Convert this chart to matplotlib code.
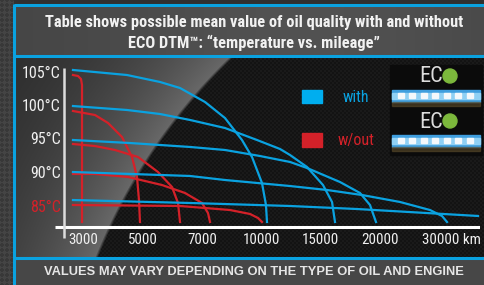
import numpy as np
import matplotlib
matplotlib.use("Agg")
import matplotlib.pyplot as plt
from matplotlib import font_manager as fm
from matplotlib.patches import Rectangle, Circle

# mileage ticks (drawn at evenly spaced positions 0..6)
km_labels = ['3000', '5000', '7000', '10000', '15000', '20000', '30000 km']
temp_ticks = [105, 100, 95, 90, 85]

# curves: x in tick-position units, y in °C
with_105_x = [-0.135, 0.774, 1.33, 1.667, 2.088, 2.424, 2.71, 2.879, 3.047, 3.114, 3.131]
with_105_y = [105.45, 104.70, 103.66, 102.76, 100.67, 98.28, 95.0, 92.46, 88.58, 85.30, 82.76]
with_100_x = [-0.135, 0.774, 1.33, 1.835, 2.424, 2.963, 3.35, 3.519, 3.805, 4.074, 4.226, 4.276]
with_100_y = [100.07, 99.48, 98.88, 97.99, 96.79, 95.0, 93.66, 92.76, 90.97, 88.28, 85.75, 82.76]
with_95_x = [-0.135, 0.825, 1.835, 2.424, 3.013, 3.519, 3.805, 4.36, 4.697, 4.865, 4.966]
with_95_y = [95.0, 94.55, 93.96, 93.51, 92.61, 91.72, 90.82, 88.73, 87.09, 85.30, 82.76]
with_90_x = [-0.135, 1.835, 2.424, 3.519, 4.141, 4.731, 5.37, 5.875, 6.077, 6.162]
with_90_y = [90.22, 89.63, 89.03, 88.13, 87.54, 86.79, 85.75, 84.55, 83.66, 82.76]
with_85_x = [-0.135, 1.835, 3.519, 4.646, 6.684]
with_85_y = [86.04, 85.60, 85.15, 84.70, 83.66]

without_105_x = [-0.135, -0.05, 0.0, 0.017, 0.017]
without_105_y = [104.70, 104.55, 104.10, 103.21, 82.76]
without_100_x = [-0.135, 0.236, 0.455, 0.69, 0.859, 0.943, 0.976, 0.993]
without_100_y = [99.33, 98.73, 97.54, 95.45, 92.46, 89.48, 86.04, 82.76]
without_95_x = [-0.135, 0.236, 0.572, 0.96, 1.296, 1.532, 1.633, 1.667]
without_95_y = [94.40, 94.10, 93.51, 92.46, 90.22, 87.99, 85.60, 82.76]
without_90_x = [-0.135, 0.236, 0.791, 1.364, 1.751, 2.037, 2.138, 2.172]
without_90_y = [89.93, 89.93, 89.48, 88.28, 87.09, 85.60, 84.10, 82.76]
without_85_x = [-0.135, 1.667, 2.508, 2.845, 2.98, 3.047]
without_85_y = [85.30, 85.15, 84.55, 83.96, 83.36, 82.76]

with_curves = [(with_105_x, with_105_y), (with_100_x, with_100_y), (with_95_x, with_95_y),
               (with_90_x, with_90_y), (with_85_x, with_85_y)]
without_curves = [(without_105_x, without_105_y), (without_100_x, without_100_y),
                  (without_95_x, without_95_y), (without_90_x, without_90_y),
                  (without_85_x, without_85_y)]

BLUE = '#0aa2e0'
RED = '#d42129'


def pick(cands):
    for c in cands:
        try:
            fm.findfont(fm.FontProperties(family=c), fallback_to_default=False)
            return c
        except ValueError:
            pass
    return 'DejaVu Sans'


NARROW = pick(['Roboto Condensed', 'Liberation Sans Narrow', 'Archivo Narrow', 'PT Sans Narrow',
               'Fira Sans Condensed', 'Roboto', 'Liberation Sans'])
PLAIN = pick(['Liberation Sans', 'Roboto', 'DejaVu Sans'])

W, H = 485, 285
fig = plt.figure(figsize=(W / 100, H / 100), dpi=100)
renderer = fig.canvas.get_renderer()


def fit(txt, width_px, others=()):
    # scale a text so it spans the same width as in the picture
    w = txt.get_window_extent(renderer).width
    size = txt.get_fontsize() * width_px / w
    for t in (txt,) + tuple(others):
        t.set_fontsize(size)


# ---- background (decoration only) ----
bg = fig.add_axes([0, 0, 1, 1])
yy, xx = np.mgrid[0:H, 0:W] + 0.5
v = np.full((H, W), 0.19)
strip = xx < 14
v[strip] = 0.22 + 0.05 * (((xx[strip] + yy[strip]) // 5 + (xx[strip] - yy[strip]) // 5) % 2)
head = (xx >= 14) & (yy >= 6) & (yy < 55)
v[head] = 0.27 + 0.05 * np.exp(-((xx[head] - 300) / 200) ** 2)
foot = (xx >= 14) & (yy > 259)
v[foot] = 0.28
chart = (xx >= 15) & (yy >= 56) & (yy <= 257)
carbon = 0.075 + 0.03 * (((xx // 2) + (yy // 2)) % 2)
d = np.hypot(xx - 627, yy - 469) - 571
grey = 0.13 + 0.28 * np.exp(-np.clip(d, 0, None) / 100)
t = np.clip((d + 1.5) / 3.0, 0, 1)
mix = carbon * (1 - t) + grey * t
v[chart] = mix[chart]
img = np.dstack([v, v, v])
bg.imshow(img, extent=(0, W, H, 0), interpolation='nearest')
bg.set_xlim(0, W)
bg.set_ylim(H, 0)
bg.axis('off')

for y in (5, 55.5, 258):
    bg.plot([14, W], [y, y], color=BLUE, lw=2.2, solid_capstyle='butt')
bg.plot([14, 14], [4, H], color=BLUE, lw=2.2, solid_capstyle='butt')

t1 = bg.text(254, 22, 'Table shows possible mean value of oil quality with and without',
             ha='center', va='center', color='#f2f2f2', fontsize=10, fontweight='bold', family=NARROW)
t2 = bg.text(254, 43, 'ECO DTM™: “temperature vs. mileage”',
             ha='center', va='center', color='#f2f2f2', fontsize=10, fontweight='bold', family=NARROW)
fit(t1, 418, (t2,))
t3 = bg.text(254, 272, 'VALUES MAY VARY DEPENDING ON THE TYPE OF OIL AND ENGINE',
             ha='center', va='center', color='#e6e6e6', fontsize=9, fontweight='bold', family=PLAIN)
fit(t3, 422)

# legend
bg.add_patch(Rectangle((302, 90), 20, 13, color='#00aeef'))
bg.text(343, 97, 'with', color=BLUE, fontsize=11.5, va='center', ha='left', family=NARROW)
bg.add_patch(Rectangle((302, 133), 20, 14, color=RED))
bg.text(338, 140, 'w/out', color=RED, fontsize=11.5, va='center', ha='left', family=NARROW)

# ECO DTM badges
for top in (65, 110):
    bg.add_patch(Rectangle((390, top), 92, 45, color='#0b0b0b'))
    bg.text(431, top + 12, 'EC', color='#dcdcdc', fontsize=16, ha='center', va='center', family=NARROW)
    bg.add_patch(Circle((450, top + 11), 7, color='#7cb83c'))
    bg.add_patch(Rectangle((392, top + 25), 88, 12, color='#3f9ede'))
    bg.add_patch(Rectangle((392, top + 28), 88, 6, color='#8fd0f4'))
    for i in range(7):
        bg.add_patch(Rectangle((398 + i * 11.5, top + 28), 6, 5, color='#f4f8fb'))
    bg.add_patch(Rectangle((392, top + 37), 88, 4, color='#5a4a2a', alpha=0.6))

# ---- chart axes ----
px_per_tick = 59.4
x0_px = 81
px_per_deg = 6.7
y105_px = 73
L, R, T, B = 55, 480, 62, 245
ax = fig.add_axes([L / W, 1 - B / H, (R - L) / W, (B - T) / H])
ax.patch.set_alpha(0)
ax.set_xlim((L - x0_px) / px_per_tick, (R - x0_px) / px_per_tick)
ax.set_ylim(105 - (B - y105_px) / px_per_deg, 105 - (T - y105_px) / px_per_deg)
ax.axis('off')

for cx, cy in without_curves:
    ax.plot(cx, cy, color=RED, lw=1.6, solid_joinstyle='round')
for cx, cy in with_curves:
    ax.plot(cx, cy, color=BLUE, lw=1.6, solid_joinstyle='round')

ax.plot([(L - x0_px) / px_per_tick, (R - x0_px) / px_per_tick], [82.0, 82.0], color='white', lw=2.2,
        solid_capstyle='butt')
yaxis_x = (64 - x0_px) / px_per_tick
ax.plot([yaxis_x, yaxis_x], [80.4, 105.75], color='#dcdcdc', lw=1.8, solid_capstyle='butt')

label_x = (61 - x0_px) / px_per_tick
for tv in temp_ticks:
    ax.text(label_x, tv, f'{tv}°C', ha='right', va='center', fontsize=11.5,
            color=RED if tv == 85 else '#f0f0f0', family=NARROW)

for i, lab in enumerate(km_labels):
    if lab.endswith('km'):
        ax.text((481 - x0_px) / px_per_tick, 80.1, lab, ha='right', va='center', fontsize=10.8,
                color='#f0f0f0', family=NARROW)
    else:
        ax.text(i + 0.04, 80.1, lab, ha='center', va='center', fontsize=10.8,
                color='#f0f0f0', family=NARROW)

fig.savefig('out.png', dpi=100)
